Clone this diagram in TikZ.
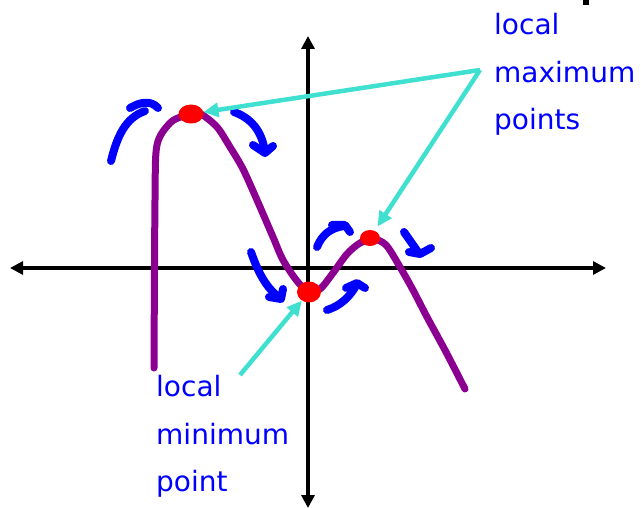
\documentclass[tikz,border=0pt]{standalone}
\usepackage{fontspec}
\setmainfont{DejaVu Sans}
\usetikzlibrary{arrows.meta,shapes.geometric}
\definecolor{curvepurple}{RGB}{139,0,145}
\definecolor{markblue}{RGB}{0,0,255}
\definecolor{pointer}{RGB}{64,224,208}
\definecolor{dotred}{RGB}{255,0,0}
\tikzset{
  axis/.style={line width=4.5pt,-{Triangle[length=13pt,width=13pt]}},
  curveline/.style={curvepurple,line width=7pt,line cap=round,line join=round},
  stroke/.style={markblue,line width=8pt,line cap=round,line join=round},
  pointerline/.style={pointer,line width=4.5pt,-{Triangle[length=15pt,width=14pt]}},
  dot/.style={ellipse,fill=dotred,inner sep=0pt,minimum width=25pt,minimum height=19pt},
  label/.style={markblue,font=\fontsize{28}{34}\selectfont,anchor=base west,inner sep=0pt},
}
\begin{document}
\begin{tikzpicture}[x=1pt,y=-1pt]
\useasboundingbox (0,0) rectangle (641,508);
% axes
\draw[axis] (300,268) -- (10,268);
\draw[axis] (300,268) -- (606,268);
\draw[axis] (308,270) -- (308,36);
\draw[axis] (308,266) -- (308,508);
% curve
\draw[curveline] plot[smooth,tension=0.5] coordinates {
 (154,368) (155,200) (157,145) (170,123) (183,116) (192,113) (201,114)
 (217,127) (230,147) (243,169) (257,200) (273,237) (283,260) (297,281)
 (308,291) (320,289) (333,273) (347,254) (360,243) (373,239) (386,245)
 (400,267) (413,290) (427,317) (446,352) (465,389)};
% red dots
\node[dot] (max1) at (191,114) {};
\node[dot,minimum width=24pt,minimum height=21pt] (min1) at (309,292) {};
\node[dot,minimum width=20pt,minimum height=16pt] (max2) at (370,238) {};
% blue hand-drawn arrows
\draw[stroke] (111,161) .. controls (117,137) and (125,118) .. (145,111);
\draw[stroke] (130,108) .. controls (140,102) and (151,100) .. (158,108);
\draw[stroke] (234,112) .. controls (251,118) and (262,131) .. (265,152);
\draw[stroke] (253,145) -- (265,153) -- (273,146);
\draw[stroke] (251,252) .. controls (258,272) and (266,288) .. (280,298);
\draw[stroke] (269,297) -- (281,299) -- (283,289);
\draw[stroke] (327,310) .. controls (340,306) and (350,297) .. (357,284);
\draw[stroke] (346,288) -- (357,283) -- (365,288);
\draw[stroke] (317,247) .. controls (322,235) and (330,228) .. (344,226);
\draw[stroke] (332,225) -- (345,225) -- (350,232);
\draw[stroke] (404,232) -- (418,252);
\draw[stroke] (409,252) -- (420,254) -- (431,248);
% labels
\node[label] (l1) at (494,35) {local};
\node[label] (l2) at (494,83) {maximum};
\node[label] (l3) at (494,130) {points};
\node[label] (m1) at (156,396) {local};
\node[label] (m2) at (156,444) {minimum};
\node[label] (m3) at (156,491) {point};
% pointers
\coordinate (pmax) at (480,70);
\coordinate (pmin) at (240,375);
\draw[pointerline] (pmax) -- (max1);
\draw[pointerline,shorten >=5pt] (pmax) -- (max2);
\draw[pointerline] (pmin) -- (min1);
% cut-off fragment at top
\fill (583,0) rectangle (589,5);
\end{tikzpicture}
\end{document}
